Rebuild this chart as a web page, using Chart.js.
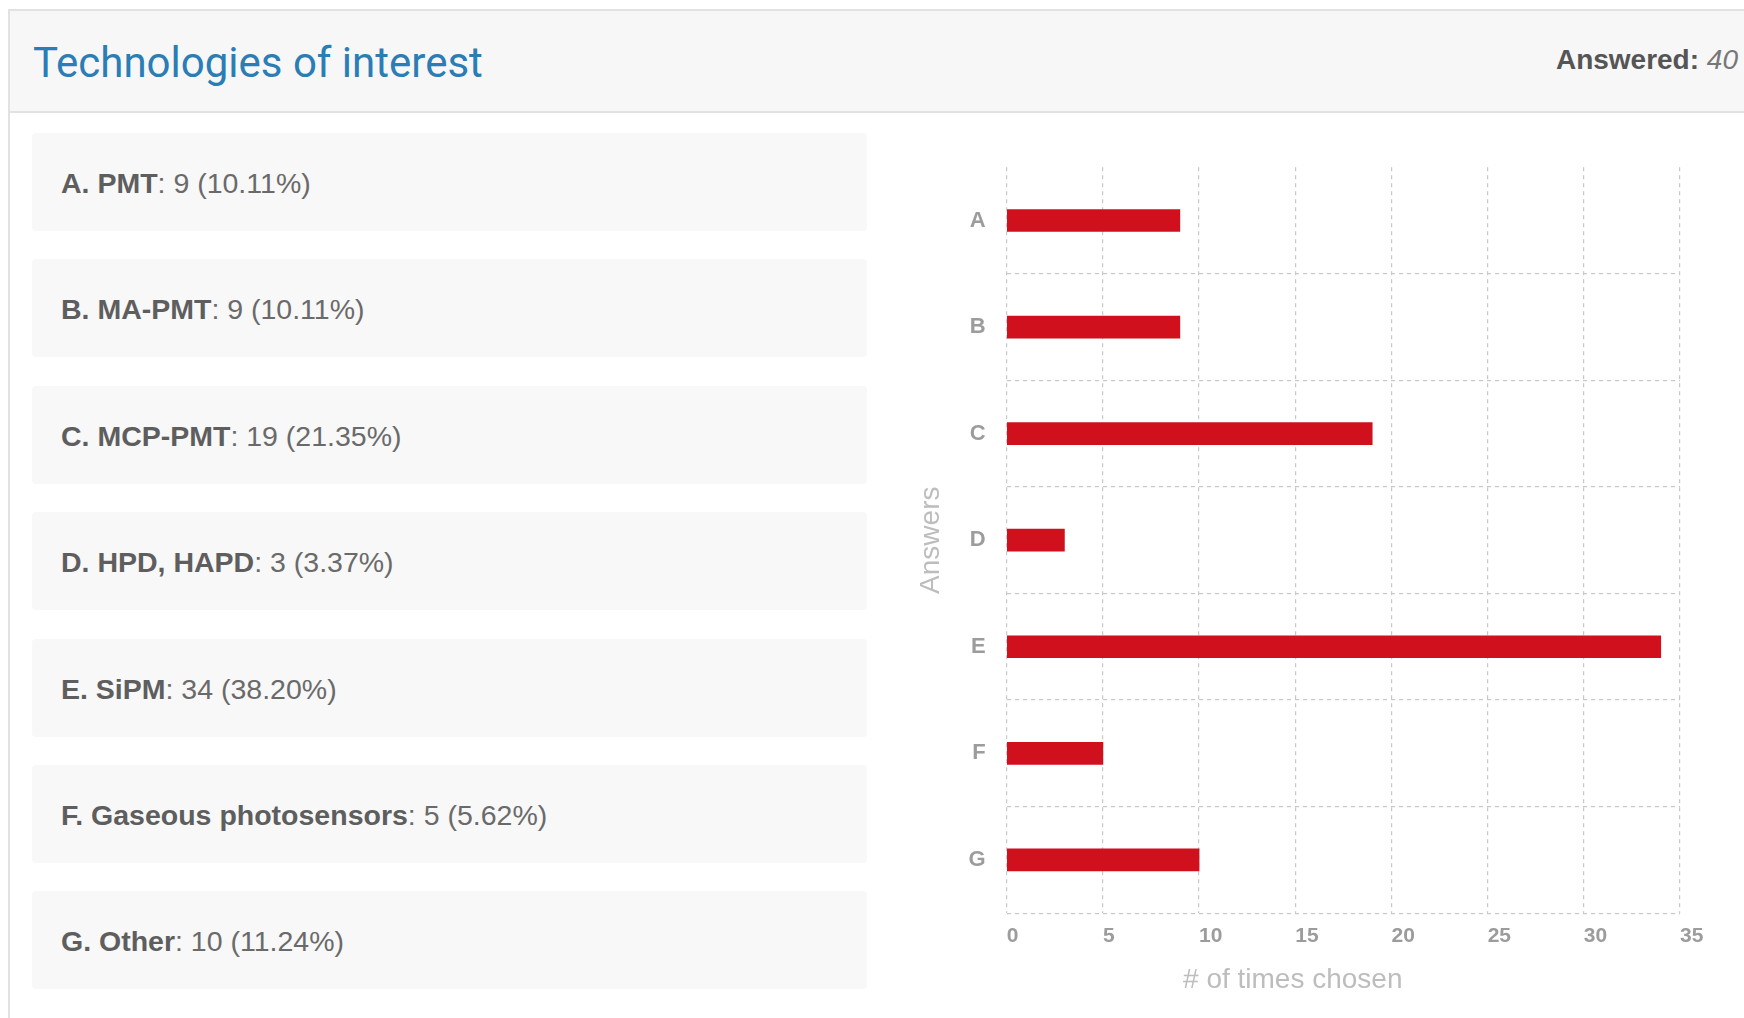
<!DOCTYPE html>
<html>
<head>
<meta charset="utf-8">
<title>Technologies of interest</title>
<script src="https://cdn.jsdelivr.net/npm/chart.js@4.4.1/dist/chart.umd.min.js"></script>
<style>
    body {
        margin: 0;
        width: 1744px;
        height: 1018px;
        overflow: hidden;
        background: #fff;
        font-family: "Liberation Sans", Arial, sans-serif;
    }
    .card {
        position: absolute;
        left: 8px;
        top: 9px;
        width: 1790px;
        height: 1100px;
        border: 2px solid #e2e2e2;
        box-sizing: border-box;
    }
    .card-header {
        position: absolute;
        left: 0;
        top: 0;
        right: 0;
        height: 100px;
        background: #f7f7f7;
        border-bottom: 2px solid #e2e2e2;
    }
    .title {
        position: absolute;
        left: 33px;
        top: 42px;
        font-family: Roboto, sans-serif;
        font-size: 42px;
        line-height: 42px;
        color: #2a7db5;
        white-space: nowrap;
    }
    .answered {
        position: absolute;
        right: 6px;
        top: 46px;
        font-size: 28px;
        line-height: 28px;
        color: #555;
        white-space: nowrap;
    }
    .answered i { color: #777; }
    .item {
        position: absolute;
        left: 32px;
        width: 835px;
        height: 98px;
        background: #f8f8f8;
        border-radius: 4px;
        box-sizing: border-box;
        padding: 36px 0 0 29px;
        font-size: 28.5px;
        line-height: 28px;
        color: #6a6a6a;
        white-space: nowrap;
    }
    .item b { color: #5e5e5e; }
    #chartBox {
        position: absolute;
        left: 900px;
        top: 133px;
        width: 844px;
        height: 885px;
    }
</style>
</head>
<body>
<div class="card">
    <div class="card-header"></div>
</div>
<div class="title">Technologies of interest</div>
<div class="answered"><b>Answered:</b> <i>40</i></div>
<div id="answerList"></div>
<div id="chartBox"><canvas id="answersChart"></canvas></div>

<script>
// Answer options and how often each was chosen
const letters = ['A', 'B', 'C', 'D', 'E', 'F', 'G'];
const answerNames = ['PMT', 'MA-PMT', 'MCP-PMT', 'HPD, HAPD', 'SiPM', 'Gaseous photosensors', 'Other'];
const timesChosen = [9, 9, 19, 3, 34, 5, 10];
const xTicks = [0, 5, 10, 15, 20, 25, 30, 35];

// Build the list on the left
const answerList = document.getElementById('answerList');
const total = timesChosen.reduce((a, b) => a + b, 0);
letters.forEach((letter, i) => {
    const item = document.createElement('div');
    item.className = 'item';
    item.style.top = (133 + i * 126.4) + 'px';
    const pct = (timesChosen[i] / total * 100).toFixed(2);
    item.innerHTML = `<b>${letter}. ${answerNames[i]}</b>: ${timesChosen[i]} (${pct}%)`;
    answerList.appendChild(item);
});

const gridColor = '#c8c8c8';
const tickColor = '#9c9c9c';

// Horizontal bar chart
const ctx = document.getElementById('answersChart').getContext('2d');
new Chart(ctx, {
    type: 'bar',
    data: {
        labels: letters,
        datasets: [{
            data: timesChosen,
            backgroundColor: '#d0101c',
            borderWidth: 0,
            barThickness: 22
        }]
    },
    options: {
        indexAxis: 'y',
        responsive: true,
        maintainAspectRatio: false,
        animation: false,
        layout: {
            padding: { left: 7, right: 64, top: 0, bottom: 17 }
        },
        plugins: {
            legend: { display: false },
            tooltip: { enabled: false }
        },
        scales: {
            x: {
                min: xTicks[0],
                max: xTicks[xTicks.length - 1],
                afterBuildTicks: axis => {
                    axis.ticks = xTicks.map(v => ({ value: v }));
                },
                ticks: {
                    align: 'start',
                    color: tickColor,
                    padding: 10,
                    font: { family: 'Liberation Sans', size: 21, weight: 'bold' }
                },
                grid: { color: gridColor, drawTicks: false, lineWidth: 1.2 },
                border: { display: false, dash: [4, 4] },
                title: {
                    display: true,
                    // trailing spaces keep the title left of centre like the original
                    text: '# of times chosen             ',
                    color: '#bdbdbd',
                    font: { family: 'Liberation Sans', size: 28 },
                    padding: { top: 5, bottom: 4 }
                }
            },
            y: {
                ticks: {
                    color: tickColor,
                    padding: 21,
                    font: { family: 'Liberation Sans', size: 22, weight: 'bold' }
                },
                grid: {
                    offset: true,
                    drawTicks: false,
                    lineWidth: 1.2,
                    color: c => c.index === 0 ? 'rgba(0,0,0,0)' : gridColor
                },
                border: { display: false, dash: [4, 4] },
                title: {
                    display: true,
                    text: 'Answers',
                    color: '#bdbdbd',
                    font: { family: 'Liberation Sans', size: 28 },
                    padding: { top: 7, bottom: 0 }
                }
            }
        }
    }
});
</script>
</body>
</html>
